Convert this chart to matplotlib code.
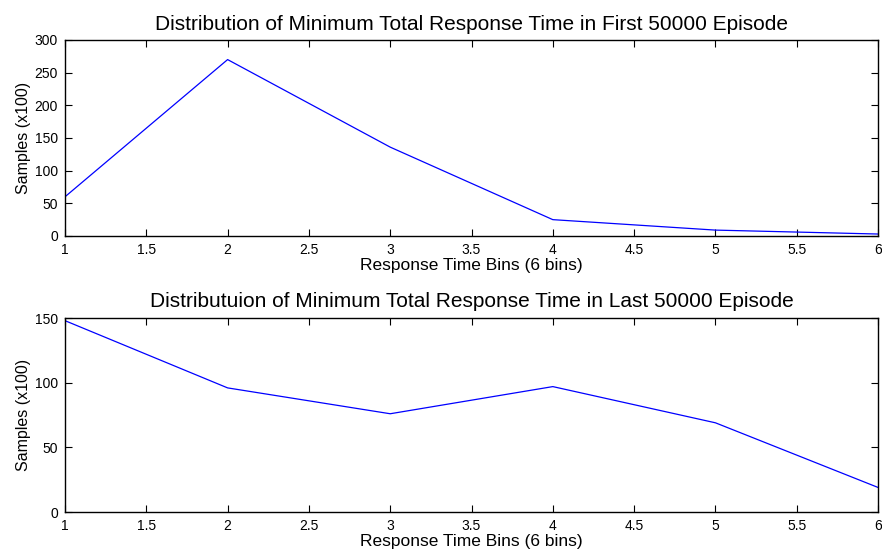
import matplotlib
matplotlib.use("Agg")
import matplotlib.pyplot as plt

plt.rcParams['font.family'] = ['Liberation Sans', 'DejaVu Sans']

bins = [1, 2, 3, 4, 5, 6]
first_vals = [60, 270, 136, 25, 9, 3]
last_vals = [148, 96, 76, 97, 69, 19]
xticks = [1, 1.5, 2, 2.5, 3, 3.5, 4, 4.5, 5, 5.5, 6]
xticklabels = ['1', '1.5', '2', '2.5', '3', '3.5', '4', '4.5', '5', '5.5', '6']

fig = plt.figure(figsize=(8.82, 5.6), dpi=100)
ax1 = fig.add_axes([0.0737, 0.5786, 0.9218, 0.35])
ax2 = fig.add_axes([0.0737, 0.0857, 0.9218, 0.3463])

def style(ax, ymax, yticks):
    ax.set_xlim(1, 6)
    ax.set_ylim(0, ymax)
    ax.set_xticks(xticks)
    ax.set_xticklabels(xticklabels)
    ax.set_yticks(yticks)
    ax.tick_params(direction='in', top=True, right=True, length=5, width=0.8,
                   labelsize=10, pad=5)
    for s in ax.spines.values():
        s.set_linewidth(1.0)

ax1.plot(bins, first_vals, color='#0000ff', lw=0.9)
style(ax1, 300, [0, 50, 100, 150, 200, 250, 300])
ax1.set_title('Distribution of Minimum Total Response Time in First 50000 Episode', fontsize=15, pad=7)
ax1.set_xlabel('Response Time Bins (6 bins)', fontsize=12.5, labelpad=1)
ax1.set_ylabel('Samples (x100)', fontsize=11.5, labelpad=3)

ax2.plot(bins, last_vals, color='#0000ff', lw=0.9)
style(ax2, 150, [0, 50, 100, 150])
ax2.set_title('Distributuion of Minimum Total Response Time in Last 50000 Episode', fontsize=15, pad=8)
ax2.set_xlabel('Response Time Bins (6 bins)', fontsize=12.5, labelpad=1)
ax2.set_ylabel('Samples (x100)', fontsize=11.5, labelpad=3)

fig.savefig('out.png', dpi=100)
